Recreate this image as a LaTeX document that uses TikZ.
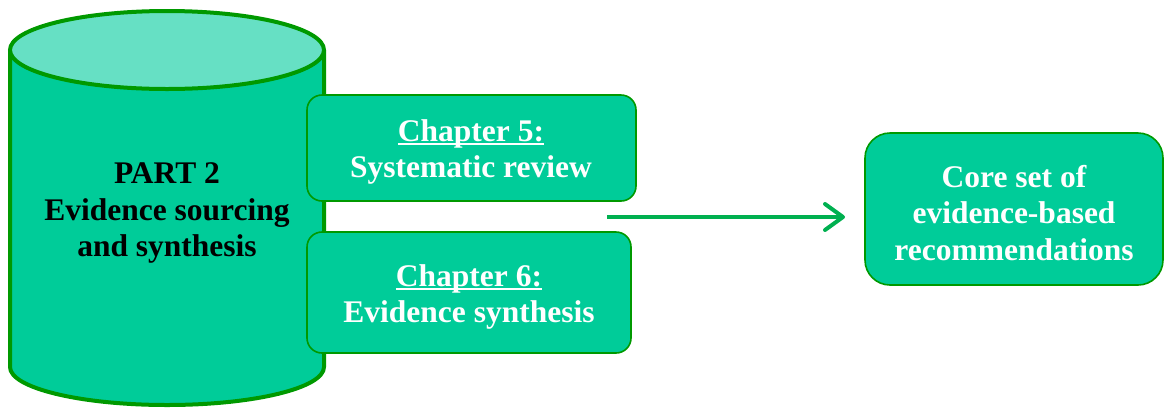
\documentclass[tikz,border=0pt]{standalone}
\usepackage{fontspec}
\setmainfont{Liberation Serif}
\usetikzlibrary{arrows.meta}
\definecolor{bodyfill}{HTML}{00CC99}
\definecolor{topfill}{HTML}{66E0C4}
\definecolor{edge}{HTML}{009900}
\definecolor{arrowgreen}{HTML}{00B050}
% heading with a heavier rule just under the baseline
\newsavebox{\chapheadbox}
\newcommand{\chapline}[1]{\sbox{\chapheadbox}{#1}\rlap{\rule[-4pt]{\wd\chapheadbox}{2.6pt}}\usebox{\chapheadbox}}
\tikzset{
  chapbox/.style={draw=edge, line width=1.6pt, fill=bodyfill, rounded corners=15pt},
  txt/.style={font=\fontsize{31.5}{36.5}\selectfont\bfseries, align=center, inner sep=0pt},
  whitetxt/.style={txt, text=white},
}
\begin{document}
\begin{tikzpicture}[x=1pt, y=-1pt]
\useasboundingbox (0,0) rectangle (1165,408);
% cylinder: body and top cap
\fill[bodyfill] (10,50) -- (10,367) arc[start angle=180, end angle=0, x radius=157, y radius=38] -- (324,50) -- cycle;
\draw[edge, line width=4pt] (10,50) -- (10,367) arc[start angle=180, end angle=0, x radius=157, y radius=38] -- (324,50);
\draw[edge, line width=4pt, fill=topfill] (167,50) ellipse[x radius=157, y radius=39];
\node[txt, text=black] (part) at (167,213) {PART 2\\Evidence sourcing\\and synthesis};
% chapter boxes
\draw[chapbox] (307,95) rectangle (636,201);
\node[whitetxt] (ch5) at (471,152) {\chapline{Chapter 5:}\\Systematic review};
\draw[chapbox] (307,232) rectangle (631,353);
\node[whitetxt] (ch6) at (469,297) {\chapline{Chapter 6:}\\Evidence synthesis};
% outcome box
\draw[chapbox, rounded corners=25pt] (865,133) rectangle (1163,285);
\node[whitetxt] (core) at (1014,213) {Core set of\\evidence-based\\recommendations};
% arrow
\coordinate (from) at (607,217);
\coordinate (to) at (845,217);
\draw[arrowgreen, line width=4pt, -{Straight Barb[length=18pt, width=26pt, round]}] (from) -- (to);
\end{tikzpicture}
\end{document}
